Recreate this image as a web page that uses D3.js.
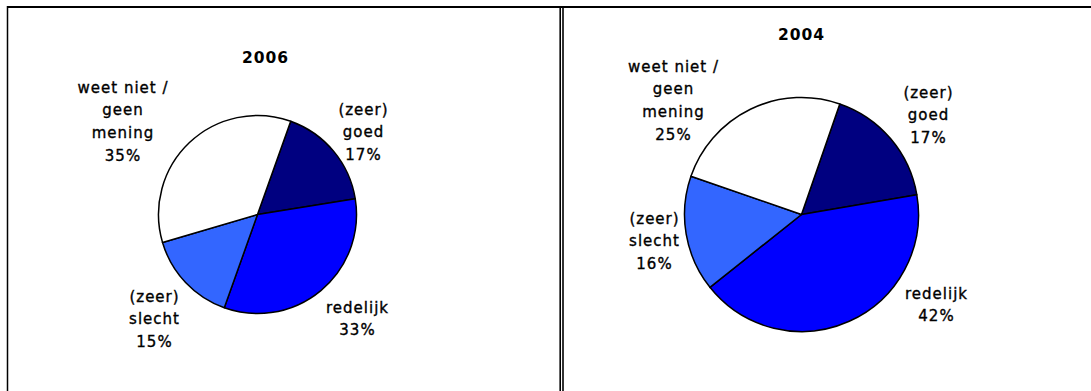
<!DOCTYPE html>
<html>
<head>
<meta charset="utf-8">
<script src="https://cdn.jsdelivr.net/npm/d3@7"></script>
<style>
  body { margin: 0; background: #fff; }
  svg { display: block; }
  text { font-family: "DejaVu Sans", Verdana, sans-serif; fill: #000; }
</style>
</head>
<body>
<svg id="chart"></svg>
<script>
// data
const categories = ["(zeer) goed", "redelijk", "(zeer) slecht", "weet niet / geen mening"];
const labelLines = [["(zeer)", "goed"], ["redelijk"], ["(zeer)", "slecht"], ["weet niet /", "geen", "mening"]];
const values2006 = [17, 33, 15, 35];
const values2004 = [17, 42, 16, 25];
const years = ["2006", "2004"];

const colors = ["#000080", "#0000ff", "#3366ff", "#ffffff"];

const width = 1091, height = 391;
const svg = d3.select("#chart").attr("width", width).attr("height", height);

// frame
svg.append("line").attr("x1", 7).attr("x2", width).attr("y1", 7).attr("y2", 7).attr("stroke", "#000").attr("stroke-width", 2);
svg.append("line").attr("x1", 7.5).attr("x2", 7.5).attr("y1", 6).attr("y2", height).attr("stroke", "#000").attr("stroke-width", 1.5);
svg.append("line").attr("x1", 560.2).attr("x2", 560.2).attr("y1", 7).attr("y2", height).attr("stroke", "#000").attr("stroke-width", 1.6);
svg.append("line").attr("x1", 563).attr("x2", 563).attr("y1", 7).attr("y2", height).attr("stroke", "#000").attr("stroke-width", 1.6);

// layout for each pie: centre, radius, rotation, title and label offsets (px from centre)
const panels = [
    { year: years[0], values: values2006, cx: 257.5, cy: 214.5, r: 99, rot: 19.6,
      title: [8, -152], labels: [[106, -100], [100, 98], [-103, 87], [-134.5, -122]] },
    { year: years[1], values: values2004, cx: 801.5, cy: 214.5, r: 117, rot: 19.1,
      title: [0, -174.5], labels: [[127, -117], [135, 84], [-147, 9], [-128, -143]] }
];

const lineH = 22.7;

panels.forEach(p => {
    const a0 = p.rot * Math.PI / 180;
    const pie = d3.pie().sort(null).startAngle(a0).endAngle(a0 + 2 * Math.PI);
    const arc = d3.arc().innerRadius(0).outerRadius(p.r);
    const g = svg.append("g").attr("transform", `translate(${p.cx},${p.cy})`);

    g.selectAll("path").data(pie(p.values)).enter().append("path")
        .attr("d", arc)
        .attr("fill", (d, i) => colors[i])
        .attr("stroke", "#000").attr("stroke-width", 1.5).attr("stroke-linejoin", "round");

    g.append("text").attr("x", p.title[0]).attr("y", p.title[1]).attr("text-anchor", "middle")
        .style("font-size", "15.5px").style("font-weight", "bold").style("letter-spacing", "1px")
        .text(p.year);

    p.values.forEach((v, i) => {
        const t = g.append("text").attr("text-anchor", "middle")
            .style("font-size", "15px").style("letter-spacing", "1px")
            .attr("stroke", "#000").attr("stroke-width", 0.35);
        const lines = labelLines[i].concat([v + "%"]);
        lines.forEach((s, j) => {
            t.append("tspan").attr("x", p.labels[i][0]).attr("y", p.labels[i][1] + j * lineH).text(s);
        });
    });
});
</script>
</body>
</html>
